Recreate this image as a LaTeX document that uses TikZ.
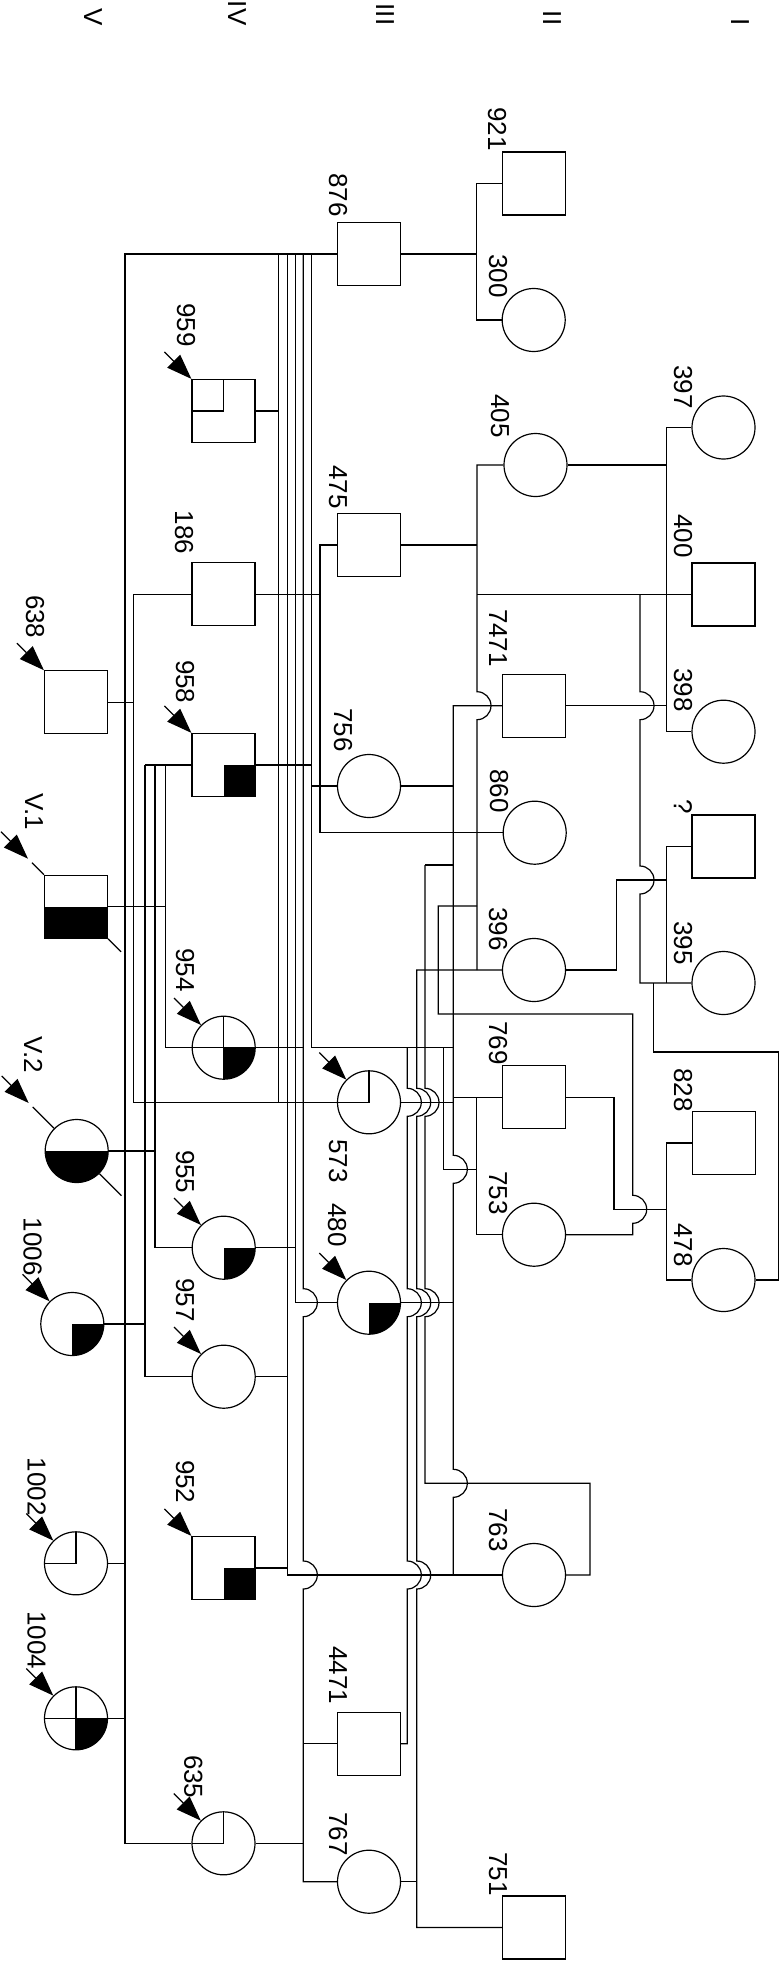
\documentclass[tikz,border=0pt]{standalone}
\usepackage{fontspec}
\setmainfont{Liberation Sans}
\usepackage{tikz}
\usetikzlibrary{arrows.meta}

\tikzset{
  male/.style={draw,rectangle,minimum size=63pt,inner sep=0pt},
  female/.style={draw,circle,minimum size=63pt,inner sep=0pt},
  quarter/.style={path picture={\fill[black](path picture bounding box.center)rectangle(path picture bounding box.south east);}},
  halfdark/.style={path picture={\fill[black](path picture bounding box.west)rectangle(path picture bounding box.south east);}},
  carrier/.style={path picture={\draw[line width=1.2pt](path picture bounding box.north)--(path picture bounding box.center)--(path picture bounding box.west);}},
  quadrants/.style={path picture={\fill[black](path picture bounding box.center)rectangle(path picture bounding box.south east);
    \draw[line width=1.2pt](path picture bounding box.north)--(path picture bounding box.south)
    (path picture bounding box.west)--(path picture bounding box.east);}},
  lab/.style={font=\fontsize{26}{26}\selectfont,rotate=-90,inner sep=0pt},
  proband/.style={-{Triangle[length=25pt,width=18pt]}}
}

\begin{document}
\begin{tikzpicture}[x=1pt,y=-1pt,line width=1.2pt]
\useasboundingbox (0,0) rectangle (780,1961);
% generations
\node[lab,anchor=east] (gV) at (93,26) {V};
\node[lab,anchor=east] (gIV) at (237,26) {IV};
\node[lab,anchor=east] (gIII) at (385,26) {III};
\node[lab,anchor=east] (gII) at (552,26) {II};
\node[lab,anchor=east] (gI) at (740,26) {I};
% generation I
\node[female] (I397) at (723.5,427.5) {};
\node[male] (I400) at (723.5,594.5) {};
\node[female] (I398) at (723.5,731.7) {};
\node[male] (Iq) at (723.5,846.5) {};
\node[female] (I395) at (723.5,983) {};
\node[male] (I828) at (724,1143) {};
\node[female] (I478) at (723.5,1280) {};
% generation II
\node[male] (II921) at (534,183.5) {};
\node[female] (II300) at (533.7,320) {};
\node[female] (II405) at (535.5,465) {};
\node[male] (II7471) at (534,705.7) {};
\node[female] (II860) at (534.7,832.7) {};
\node[female] (II396) at (534,970) {};
\node[male] (II769) at (534,1097.3) {};
\node[female] (II753) at (534,1234.7) {};
\node[female] (II763) at (534,1575) {};
\node[male] (II751) at (534,1927.5) {};
% generation III
\node[male] (III876) at (369,254) {};
\node[male] (III475) at (369,545) {};
\node[female] (III756) at (369,786) {};
\node[female,carrier] (III573) at (369,1102.3) {};
\node[female,quarter] (III480) at (369,1302.7) {};
\node[male] (III4471) at (369,1743.7) {};
\node[female] (III767) at (369,1881.7) {};
% generation IV
\node[male,carrier] (IV959) at (223.5,411) {};
\node[male] (IV186) at (223.5,594.3) {};
\node[male,quarter] (IV958) at (223.5,765) {};
\node[female,quadrants] (IV954) at (223.7,1047.7) {};
\node[female,quarter] (IV955) at (223.7,1247.7) {};
\node[female] (IV957) at (223.7,1376.7) {};
\node[male,quarter] (IV952) at (223.5,1568) {};
\node[female,carrier] (IV635) at (223.5,1843.3) {};
% generation V
\node[male] (V638) at (76,702.3) {};
\node[male,halfdark] (V1) at (76,906.7) {};
\node[female,halfdark] (V2) at (76.7,1151) {};
\node[female,quarter] (V1006) at (72.3,1324) {};
\node[female,carrier] (V1002) at (76,1563.3) {};
\node[female,quadrants] (V1004) at (76,1718.3) {};
% labels
\node[lab] (l397) at (683,387) {397};
\node[lab] (l400) at (683,536) {400};
\node[lab] (l398) at (683,690) {398};
\node[lab] (lq) at (683,807) {?};
\node[lab] (l395) at (683,943) {395};
\node[lab] (l828) at (683,1090) {828};
\node[lab] (l478) at (683,1245) {478};
\node[lab] (l921) at (497,129) {921};
\node[lab] (l300) at (498,276) {300};
\node[lab] (l405) at (500,416) {405};
\node[lab] (l7471) at (498,638) {7471};
\node[lab] (l860) at (499,791) {860};
\node[lab] (l396) at (498,929) {396};
\node[lab] (l769) at (498,1043) {769};
\node[lab] (l753) at (498,1193) {753};
\node[lab] (l763) at (498,1530) {763};
\node[lab] (l751) at (498,1874) {751};
\node[lab] (l876) at (338,195) {876};
\node[lab] (l475) at (338,487) {475};
\node[lab] (l756) at (343,730) {756};
\node[lab] (l573) at (338,1161) {573};
\node[lab] (l480) at (337,1225) {480};
\node[lab] (l4471) at (338,1675) {4471};
\node[lab] (l767) at (338,1834) {767};
\node[lab] (l959) at (186,325) {959};
\node[lab] (l186) at (184,532.5) {186};
\node[lab] (l958) at (185,681.7) {958};
\node[lab] (l954) at (185,970) {954};
\node[lab] (l955) at (185,1171.7) {955};
\node[lab] (l957) at (185,1300) {957};
\node[lab] (l952) at (185,1481.7) {952};
\node[lab] (l635) at (193.3,1776.7) {635};
\node[lab] (l638) at (35,616.7) {638};
\node[lab] (lV1) at (34,811.7) {V.1};
\node[lab] (lV2) at (33.3,1055) {V.2};
\node[lab] (l1006) at (32.5,1246.7) {1006};
\node[lab] (l1002) at (36.7,1486.7) {1002};
\node[lab] (l1004) at (36.7,1640) {1004};
% probands
\foreach \p in {IV959,IV958,IV954,IV955,IV957,IV952,IV635,III573,III480,V638,V1006,V1002,V1004}
  \draw[proband] (\p.north west) ++(-27,-27) -- (\p.north west);
\draw[proband] (V1.center) ++(-75,-75) -- ++(27,27);
\draw[proband] (V2.center) ++(-75,-75) -- ++(27,27);
% deceased
\draw (V1.center) ++(-44,-44) -- (V1.north west);
\draw (V1.south east) -- ++(13,13);
\draw (V2.center) ++(-44,-44) -- (V2.north west);
\draw (V2.south east) -- ++(22,22);
% lines of descent
\draw (II921.west) -| (476.7,320) -- (II300.west);
\draw (III876.east) -- (476.7,254);
\draw (III876.west) -| (125,1843.3) -- (IV635.west);
\draw (278.3,254) -- (278.3,1102.3);
\draw (287.3,254) -- (287.3,1575);
\draw (295.7,254) |- (III480.west);
\draw (303.3,254) -- (303.3,1288.7) arc[start angle=-90,end angle=90,radius=14]
  -- (303.3,1561) arc[start angle=-90,end angle=90,radius=14] |- (III767.west);
\draw (311.7,254) -- (311.7,1047.7) -- (453.3,1047.7);
\draw (IV959.east) -- (278.3,411);
\draw (IV186.east) -- (320,594.3);
\draw (IV186.west) -| (133.5,1102.3) -- (III573.west);
\draw (V638.east) -- (133.5,702.3);
\draw (III475.west) -| (320,832.7) -- (II860.west);
\draw (III475.east) -- (477,545);
\draw (II405.west) -| (477,691.7) arc[start angle=-90,end angle=90,radius=14] -- (477,970);
\draw (II396.west) -- (416.7,970) -- (416.7,1088.3) arc[start angle=-90,end angle=90,radius=14]
  -- (416.7,1288.7) arc[start angle=-90,end angle=90,radius=14]
  -- (416.7,1561) arc[start angle=-90,end angle=90,radius=14] |- (II751.west);
\draw (III767.east) -- (416.7,1881.7);
\draw (II405.east) -- (666.7,465);
\draw (I397.west) -| (666.7,731.7) -- (I398.west);
\draw (I400.west) -- (477,594.5);
\draw (640,594.5) -- (640,691.7) arc[start angle=-90,end angle=90,radius=14]
  -- (640,866) arc[start angle=-90,end angle=90,radius=14] |- (I395.west);
\draw (Iq.west) -| (666.7,983);
\draw (653.3,983) -- (653.3,1052) -| (778.3,1280) -- (I478.east);
\draw (II7471.east) -- (666.7,705.7);
\draw (II7471.west) -- (453.3,705.7) -- (453.3,1155.3) arc[start angle=-90,end angle=90,radius=14]
  -- (453.3,1469.3) arc[start angle=-90,end angle=90,radius=14] -- (453.3,1575);
\draw (III756.east) -- (453.3,786);
\draw (III756.west) -- (311.7,786);
\draw (IV958.east) -- (311.7,765);
\draw (IV958.west) -- (145,765);
\draw (145,765) |- (IV957.west);
\draw (155,765) |- (IV955.west);
\draw (165.7,765) |- (IV954.west);
\draw (V1.east) -- (165.7,906.7);
\draw (V2.east) -- (155,1151);
\draw (V1006.east) -- (145,1324);
\draw (IV954.east) -- (303.3,1047.7);
\draw (407.3,1047.7) -- (407.3,1088.3) arc[start angle=-90,end angle=90,radius=14]
  -- (407.3,1288.7) arc[start angle=-90,end angle=90,radius=14]
  -- (407.3,1561) arc[start angle=-90,end angle=90,radius=14] |- (III4471.east);
\draw (443.3,1047.7) -- (443.3,1169.3) -- (476.7,1169.3);
\draw (III573.east) -- (453.3,1102.3);
\draw (425,865) -- (453.3,865);
\draw (425,865) -- (425,1088.3) arc[start angle=-90,end angle=90,radius=14]
  -- (425,1288.7) arc[start angle=-90,end angle=90,radius=14]
  -- (425,1483.3) -- (590,1483.3) |- (II763.east);
\draw (II396.east) -| (616.7,880) -- (666.7,880);
\draw (477,906) -| (438.3,1014) -| (632.7,1195.3) arc[start angle=-90,end angle=90,radius=14] |- (II753.east);
\draw (II769.west) -- (453.3,1097.3);
\draw (476.7,1097.3) |- (II753.west);
\draw (II769.east) -| (614,1209.3) -- (666.7,1209.3);
\draw (I828.west) -| (666.7,1280) -- (I478.west);
\draw (III480.east) -- (453.3,1302.7);
\draw (IV955.east) -- (295.7,1247.7);
\draw (IV957.east) -- (287.3,1376.7);
\draw (IV952.east) -- (287.3,1568);
\draw (287.3,1575) -- (II763.west);
\draw (III4471.west) -- (303.3,1743.7);
\draw (IV635.east) -- (303.3,1843.3);
\draw (V1002.east) -- (125,1563.3);
\draw (V1004.east) -- (125,1718.3);
\end{tikzpicture}
\end{document}
